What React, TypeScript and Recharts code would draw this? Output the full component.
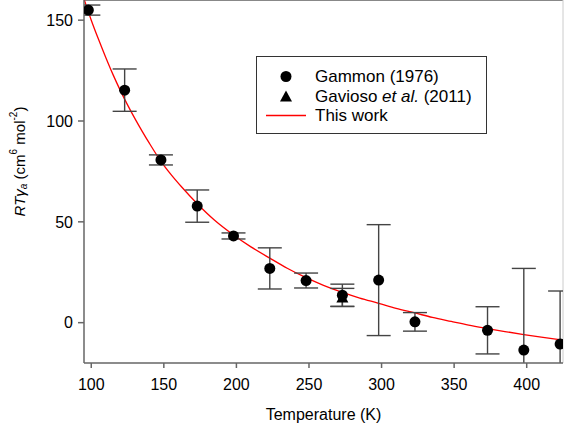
import {
  ComposedChart,
  ErrorBar,
  Line,
  ReferenceLine,
  Scatter,
  XAxis,
  YAxis,
} from "recharts";

// Gammon (1976): temperature (K), RTγa (cm6 mol-2), ± error
const gammonT = [98, 123, 148, 173, 198, 223, 248, 273, 298, 323, 373, 398, 423];
const gammonV = [155, 115.3, 80.7, 57.8, 43, 26.9, 20.9, 13.6, 21.1, 0.4, -3.8, -13.6, -10.6];
const gammonErr = [2.5, 10.5, 2.5, 8, 1.5, 10.2, 3.7, 5.5, 27.5, 4.6, 11.7, 40.5, 26.3];

// Gavioso et al. (2011)
const gaviosoT = [273];
const gaviosoV = [12.5];
const gaviosoErr = [4.5];

// This work (fitted curve)
const curveT = [95, 100, 105, 110, 115, 120, 125, 130, 135, 140, 148, 155, 162, 173, 185, 198, 210, 223, 235, 248, 260, 273, 285, 298, 310, 323, 335, 348, 360, 373, 385, 398, 410, 425];
const curveV = [160.5, 150, 140.5, 131.5, 123, 115.2, 108, 101.3, 95, 89, 80, 73.4, 67.5, 59, 50.8, 43.5, 37.6, 32, 27, 22.3, 18.5, 15, 12.2, 9.6, 7.1, 4.8, 2.6, 0.6, -1.2, -2.9, -4.4, -5.9, -7.2, -8.7];

const xTicks = [100, 150, 200, 250, 300, 350, 400];
const yTicks = [0, 50, 100, 150];

const gammon = gammonT.map((t, i) => ({ t, v: gammonV[i], e: gammonErr[i] }));
const gavioso = gaviosoT.map((t, i) => ({ t, v: gaviosoV[i], e: gaviosoErr[i] }));
const curve = curveT.map((t, i) => ({ t, v: curveV[i] }));

const FONT = '"Liberation Sans", Arial, sans-serif';

// plot box, used only to clip the error bars the way the original does
const PLOT = { left: 84, top: 0, width: 479, height: 363 };

const Dot = (p: any) => <circle cx={p.cx} cy={p.cy} r={5.5} fill="#000" />;
const Tri = (p: any) => (
  <polygon
    points={`${p.cx},${p.cy - 6} ${p.cx - 6},${p.cy + 5} ${p.cx + 6},${p.cy + 5}`}
    fill="#000"
  />
);

const YTitle = (props: any) => {
  const vb = props.viewBox;
  const x = 19;
  const y = vb.y + vb.height / 2 - 20;
  return (
    <text
      x={x}
      y={y}
      transform={`rotate(-90, ${x}, ${y})`}
      textAnchor="middle"
      dominantBaseline="central"
      fontSize={15}
      fontFamily={FONT}
      fill="#000"
    >
      <tspan fontStyle="italic">RT</tspan>
      <tspan fontStyle="italic">γ</tspan>
      <tspan fontStyle="italic" fontSize={10} dy={4}>a</tspan>
      <tspan dy={-4}> (cm</tspan>
      <tspan fontSize={10} dy={-6}>6</tspan>
      <tspan dy={6}> mol</tspan>
      <tspan fontSize={10} dy={-6}>-2</tspan>
      <tspan dy={6}>)</tspan>
    </text>
  );
};

const XTitle = (props: any) => {
  const vb = props.viewBox;
  return (
    <text
      x={vb.x + vb.width / 2}
      y={vb.y + 57}
      textAnchor="middle"
      fontSize={16}
      fontFamily={FONT}
      fill="#000"
    >
      Temperature (K)
    </text>
  );
};

export default function App() {
  return (
    <div
      style={{
        position: "absolute",
        left: 0,
        top: 0,
        width: 565,
        height: 427,
        background: "#fff",
        fontFamily: FONT,
        overflow: "hidden",
      }}
    >
      <style>{`.recharts-errorBar { clip-path: url(#plot-clip); }`}</style>
      <svg width={0} height={0} style={{ position: "absolute" }}>
        <defs>
          <clipPath id="plot-clip" clipPathUnits="userSpaceOnUse">
            <rect x={PLOT.left} y={PLOT.top} width={PLOT.width} height={PLOT.height} />
          </clipPath>
        </defs>
      </svg>
      <ComposedChart width={566} height={427} margin={{ top: 0, right: 3, left: 0, bottom: 0 }}>
        <XAxis
          type="number"
          dataKey="t"
          domain={[95, 425]}
          ticks={xTicks}
          allowDataOverflow
          height={64}
          tickSize={5}
          tickMargin={11}
          stroke="#666"
          strokeWidth={1.5}
          tick={{ fontSize: 16, fill: "#000", fontFamily: FONT }}
          label={{ content: XTitle }}
        />
        <YAxis
          type="number"
          dataKey="v"
          domain={[-20, 160]}
          ticks={yTicks}
          allowDataOverflow
          width={84}
          tickSize={6}
          tickMargin={5}
          stroke="#666"
          strokeWidth={1.5}
          tick={{ fontSize: 16, fill: "#000", fontFamily: FONT }}
          label={{ content: YTitle }}
        />
        <ReferenceLine y={160} stroke="#888" strokeWidth={2} />
        <ReferenceLine x={425} stroke="#ccc" strokeWidth={1} />
        <Line
          data={curve}
          dataKey="v"
          type="monotone"
          stroke="#ff0000"
          strokeWidth={1.3}
          dot={false}
          activeDot={false}
          isAnimationActive={false}
        />
        <Scatter data={gavioso} dataKey="v" shape={Tri} isAnimationActive={false}>
          <ErrorBar dataKey="e" direction="y" width={12} stroke="#444" strokeWidth={1.4} />
        </Scatter>
        <Scatter data={gammon} dataKey="v" shape={Dot} isAnimationActive={false}>
          <ErrorBar dataKey="e" direction="y" width={12} stroke="#444" strokeWidth={1.4} />
        </Scatter>
      </ComposedChart>
      <div
        style={{
          position: "absolute",
          left: 256,
          top: 56,
          width: 229,
          height: 76,
          border: "1px solid #333",
          background: "#fff",
          fontSize: 17,
          lineHeight: "19.5px",
          color: "#000",
        }}
      >
        <div style={{ position: "absolute", left: 0, top: 10, width: 229 }}>
          <div style={{ display: "flex", alignItems: "center", height: 19.5 }}>
            <svg width={58} height={19}>
              <circle cx={29} cy={9.5} r={5.5} fill="#000" />
            </svg>
            <span>Gammon (1976)</span>
          </div>
          <div style={{ display: "flex", alignItems: "center", height: 19.5 }}>
            <svg width={58} height={19}>
              <polygon points="29,3.5 23,14.5 35,14.5" fill="#000" />
            </svg>
            <span>
              Gavioso <i>et al.</i> (2011)
            </span>
          </div>
          <div style={{ display: "flex", alignItems: "center", height: 19.5 }}>
            <svg width={58} height={19}>
              <line x1={9} y1={9.5} x2={49} y2={9.5} stroke="#ff0000" strokeWidth={1.3} />
            </svg>
            <span>This work</span>
          </div>
        </div>
      </div>
    </div>
  );
}
